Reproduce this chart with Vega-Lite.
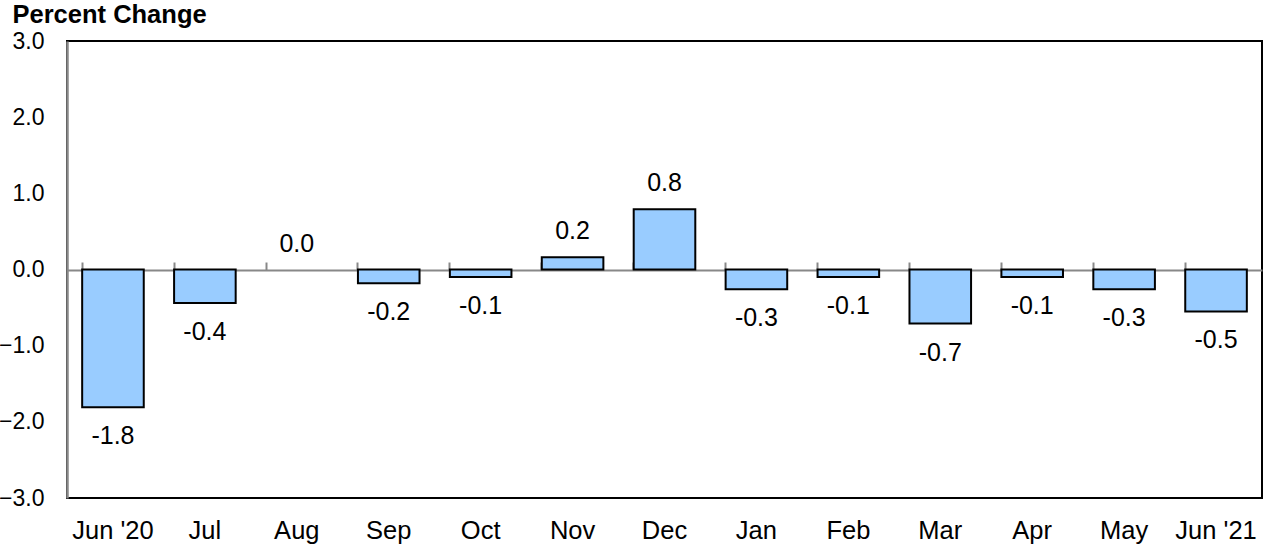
{
  "$schema": "https://vega.github.io/schema/vega-lite/v6.json",
  "width": 1195,
  "height": 457,
  "autosize": "none",
  "padding": {"left": 67, "top": 41, "right": 11, "bottom": 52},
  "background": "white",
  "config": {
    "font": "Liberation Sans",
    "view": {"stroke": "black", "strokeWidth": 2}
  },
  "data": {
    "values": [
      {"month": "Jun '20", "value": -1.81, "label": "-1.8"},
      {"month": "Jul", "value": -0.44, "label": "-0.4"},
      {"month": "Aug", "value": 0.0, "label": "0.0"},
      {"month": "Sep", "value": -0.18, "label": "-0.2"},
      {"month": "Oct", "value": -0.1, "label": "-0.1"},
      {"month": "Nov", "value": 0.16, "label": "0.2"},
      {"month": "Dec", "value": 0.79, "label": "0.8"},
      {"month": "Jan", "value": -0.26, "label": "-0.3"},
      {"month": "Feb", "value": -0.1, "label": "-0.1"},
      {"month": "Mar", "value": -0.71, "label": "-0.7"},
      {"month": "Apr", "value": -0.1, "label": "-0.1"},
      {"month": "May", "value": -0.26, "label": "-0.3"},
      {"month": "Jun '21", "value": -0.55, "label": "-0.5"}
    ]
  },
  "resolve": {"axis": {"x": "independent"}},
  "layer": [
    {
      "mark": {"type": "bar", "fill": "#99CCFF", "stroke": "black", "strokeWidth": 2},
      "encoding": {
        "x": {
          "field": "month", "type": "nominal", "sort": null,
          "scale": {"paddingInner": 0.33, "paddingOuter": 0.165},
          "axis": {
            "title": null, "labelAngle": 0, "labelFontSize": 25.5, "labelColor": "black",
            "ticks": false, "tickSize": 0, "domain": false, "labelPadding": 20, "labelFont": "Liberation Sans"
          }
        },
        "y": {
          "field": "value", "type": "quantitative",
          "scale": {"domain": [-3, 3], "nice": false, "zero": false},
          "axis": {
            "values": [-3, -2, -1, 0, 1, 2, 3], "format": ".1f", "grid": false,
            "ticks": false, "tickSize": 0, "labelPadding": 23, "labelFontSize": 23, "labelColor": "black",
            "labelFont": "Liberation Sans",
            "domainColor": "#888888", "domainWidth": 2.5,
            "title": "Percent Change", "titleAngle": 0, "titleAlign": "left", "titleBaseline": "alphabetic",
            "titleX": -55, "titleY": -19, "titleFontSize": 25.5, "titleFontWeight": "bold", "titleColor": "black",
            "titleFont": "Liberation Sans"
          }
        },
        "strokeOpacity": {"condition": {"test": "datum.value == 0", "value": 0}, "value": 1}
      }
    },
    {
      "transform": [{"filter": "datum.value >= 0"}],
      "mark": {"type": "text", "fontSize": 25, "dy": -26, "baseline": "middle", "color": "black", "font": "Liberation Sans"},
      "encoding": {
        "x": {
          "field": "month", "type": "nominal", "sort": null,
          "axis": {
            "title": null, "labels": false, "offset": -229, "domainColor": "#888888", "domainWidth": 2,
            "tickColor": "#888888", "tickWidth": 2, "tickSize": 8, "bandPosition": 0
          }
        },
        "y": {"field": "value", "type": "quantitative"},
        "text": {"field": "label"}
      }
    },
    {
      "transform": [{"filter": "datum.value < 0"}],
      "mark": {"type": "text", "fontSize": 25, "dy": 29, "baseline": "middle", "color": "black", "font": "Liberation Sans"},
      "encoding": {
        "x": {"field": "month", "type": "nominal", "sort": null, "axis": null},
        "y": {"field": "value", "type": "quantitative"},
        "text": {"field": "label"}
      }
    }
  ]
}
